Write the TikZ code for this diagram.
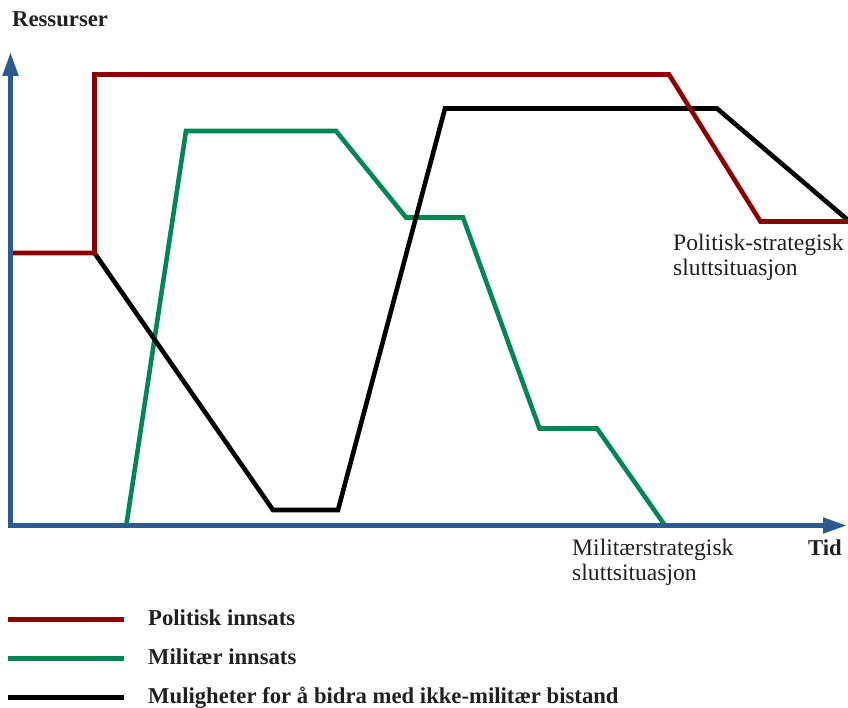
\documentclass[tikz,border=0pt]{standalone}
\usepackage{fontspec}
\setmainfont{Liberation Serif}
\usetikzlibrary{arrows.meta}
\definecolor{axisblue}{RGB}{44,90,140}
\definecolor{polred}{RGB}{140,0,0}
\definecolor{milgreen}{RGB}{0,135,85}
\definecolor{inkgray}{RGB}{35,31,32}
\tikzset{
  axisline/.style={draw=axisblue, line width=5pt, -{Triangle[width=15pt,length=24pt]}},
  curve/.style={line width=4.6pt, miter limit=10},
  regtext/.style={inner sep=0pt, anchor=base west, text=inkgray, font=\fontsize{23.6}{25}\selectfont},
  boldtext/.style={inner sep=0pt, anchor=base west, text=inkgray, font=\fontsize{22.7}{25}\selectfont\bfseries},
}
\begin{document}
\begin{tikzpicture}[x=1pt, y=-1pt]
\useasboundingbox (0,0) rectangle (848,708);

% axes
\draw[axisline] (10.5,528) -- (10.5,52);
\draw[axisline] (8,525.5) -- (847,525.5);

% military effort
\draw[curve, milgreen] (126.5,524) -- (186,131) -- (336,131) -- (406,217.5) -- (463,217.5)
  -- (539.5,428.5) -- (597,428.5) -- (664,524);

% possibilities for non-military aid
\draw[curve, black] (94.5,253) -- (273,510) -- (338,510) -- (445,108.5) -- (717,108.5) -- (849,221);

% political effort
\draw[curve, polred] (13,253) -- (94.5,253) -- (94.5,74.5) -- (669,74.5) -- (760.5,221.5) -- (850,221.5);

% axis titles
\node[boldtext] (ylab) at (12,26.5) {Ressurser};
\node[boldtext, anchor=base east] (xlab) at (842,555) {Tid};

% end-state labels
\node[regtext] (mil1) at (572,555) {Militærstrategisk};
\node[regtext] (mil2) at (572,580) {sluttsituasjon};
\node[regtext] (pol1) at (673,251) {Politisk-strategisk};
\node[regtext] (pol2) at (673,276) {sluttsituasjon};

% legend
\draw[curve, polred] (8,619.5) -- (124,619.5);
\draw[curve, milgreen] (8,658.5) -- (124,658.5);
\draw[curve, black] (8,697.5) -- (124,697.5);
\node[boldtext] (leg1) at (148,625.5) {Politisk innsats};
\node[boldtext] (leg2) at (148,664.5) {Militær innsats};
\node[boldtext] (leg3) at (148,703.5) {Muligheter for å bidra med ikke-militær bistand};
\end{tikzpicture}
\end{document}
